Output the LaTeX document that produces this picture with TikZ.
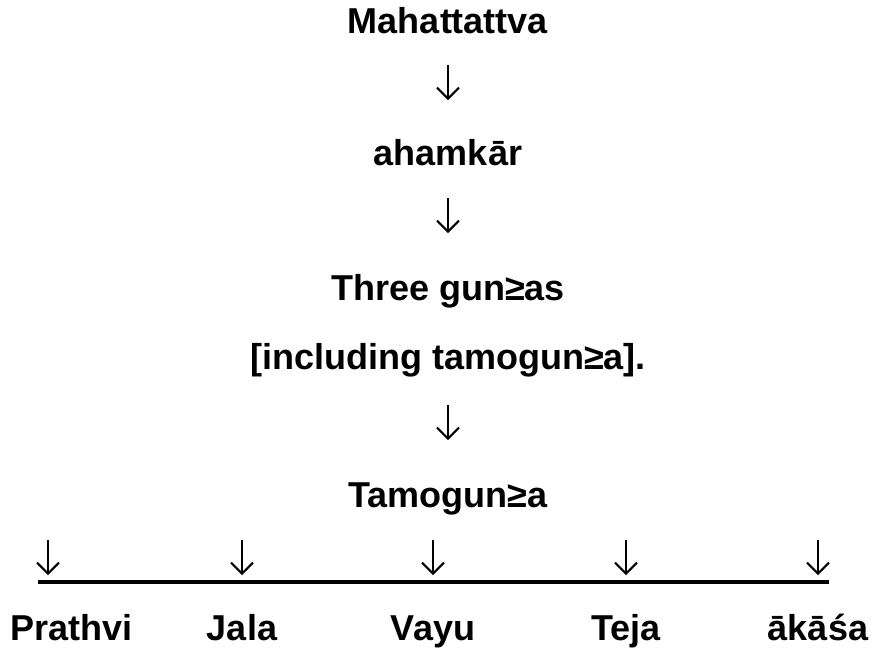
\documentclass[tikz,border=0pt]{standalone}
\usepackage{fontspec}
\setmainfont{Liberation Sans}
\usetikzlibrary{arrows.meta}
\begin{document}
\begin{tikzpicture}[x=1pt,y=-1pt,
  lbl/.style={font=\bfseries\fontsize{36}{40}\selectfont, inner sep=0pt, anchor=base},
  darrow/.style={line width=2pt, -{Straight Barb[length=11pt,width=22pt]}},
  bar/.style={line width=4pt}]
\useasboundingbox (0,0) rectangle (894,657);

% chain of stages
\node[lbl] (mah)   at (448,33)  {Mahattattva};
\node[lbl] (aham)  at (448,165) {ahamkār};
\node[lbl] (three) at (448,300) {Three gun≥as};
\node[lbl] (incl)  at (448,369) {[including tamogun≥a].};
\node[lbl] (tamo)  at (448,507) {Tamogun≥a};

\draw[darrow, shorten <=32pt, shorten >=65pt] (mah.base) -- (aham.base);
\draw[darrow, shorten <=33pt, shorten >=67pt] (aham.base) -- (three.base);
\draw[darrow, shorten <=36pt, shorten >=67pt] (incl.base) -- (tamo.base);

% horizontal bar with the five elements
\coordinate (barL) at (38,581.5);
\coordinate (barR) at (829,581.5);
\draw[bar] (barL) -- (barR);

\foreach \name/\x in {p/48, j/242, v/433, t/626, a/818} {
  \coordinate (arr\name) at (\x,540);
  \draw[darrow] (arr\name) -- ++(0,35);
}

\node[lbl, anchor=base west] (prathvi) at (10,640) {Prathvi};
\node[lbl] (jala) at (arrj |- 0,640) {Jala};
\node[lbl] (vayu) at (arrv |- 0,640) {Vayu};
\node[lbl] (teja) at (arrt |- 0,640) {Teja};
\node[lbl] (akasa) at (arra |- 0,640) {ākāśa};
\end{tikzpicture}
\end{document}
